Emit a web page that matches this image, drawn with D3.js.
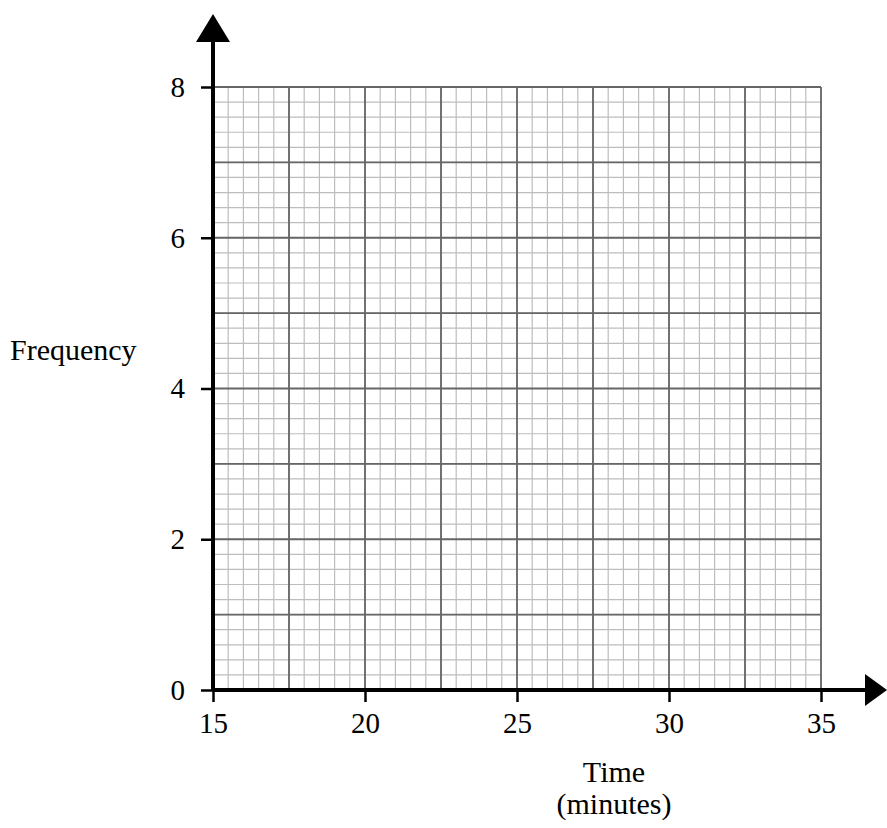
<!DOCTYPE html><html><head><script src="https://cdn.jsdelivr.net/npm/d3@7"></script>
<style>body{margin:0;background:#fff}text{font-family:"Liberation Serif",serif;font-size:30px;fill:#000}</style></head><body>
<svg id="c" width="887" height="828"></svg>
<script>
const xTicks=[15,20,25,30,35];
const yTicks=[0,2,4,6,8];
const xLabel=["Time","(minutes)"];
const yLabel="Frequency";
const svg=d3.select("#c");
const x=d3.scaleLinear().domain([15,35]).range([213,821]);
const y=d3.scaleLinear().domain([0,8]).range([690,87]);
const g=svg.append("g");
d3.range(15,35.01,0.5).forEach(v=>g.append("line").attr("x1",x(v)).attr("x2",x(v)).attr("y1",y(0)).attr("y2",y(8)).attr("stroke","#bdbdbd").attr("stroke-width",1.2));
d3.range(0,8.01,0.2).forEach(v=>g.append("line").attr("y1",y(v)).attr("y2",y(v)).attr("x1",x(15)).attr("x2",x(35)).attr("stroke","#bdbdbd").attr("stroke-width",1.2));
d3.range(15,35.01,2.5).forEach(v=>g.append("line").attr("x1",x(v)).attr("x2",x(v)).attr("y1",y(0)).attr("y2",y(8)).attr("stroke","#666").attr("stroke-width",1.8));
d3.range(0,8.01,1).forEach(v=>g.append("line").attr("y1",y(v)).attr("y2",y(v)).attr("x1",x(15)).attr("x2",x(35)).attr("stroke","#666").attr("stroke-width",1.8));
svg.append("g").attr("transform",`translate(0,${y(0)})`).call(d3.axisBottom(x).tickValues(xTicks).tickSize(12).tickPadding(10).tickFormat(d3.format("d")))
 .call(a=>{a.select(".domain").remove();a.selectAll("line").attr("stroke-width",2.5);a.selectAll("text").style("font-size","29px");});
svg.append("g").attr("transform",`translate(${x(15)},0)`).call(d3.axisLeft(y).tickValues(yTicks).tickSize(12).tickPadding(16))
 .call(a=>{a.select(".domain").remove();a.selectAll("line").attr("stroke-width",2.5);a.selectAll("text").style("font-size","29px");});
svg.append("line").attr("x1",x(15)).attr("x2",870).attr("y1",y(0)).attr("y2",y(0)).attr("stroke","#000").attr("stroke-width",4);
svg.append("line").attr("x1",x(15)).attr("x2",x(15)).attr("y1",y(0)).attr("y2",35).attr("stroke","#000").attr("stroke-width",4);
svg.append("path").attr("d",`M${x(15)},14 L${x(15)-17},42 L${x(15)+17},42 Z`).attr("fill","#000");
svg.append("path").attr("d",`M887,${y(0)} L865,${y(0)-16} L865,${y(0)+16} Z`).attr("fill","#000");
svg.append("text").attr("x",10).attr("y",360).text(yLabel);
svg.selectAll(".xl").data(xLabel).join("text").attr("x",614).attr("y",(d,i)=>782+i*32).attr("text-anchor","middle").text(d=>d);
</script></body></html>
